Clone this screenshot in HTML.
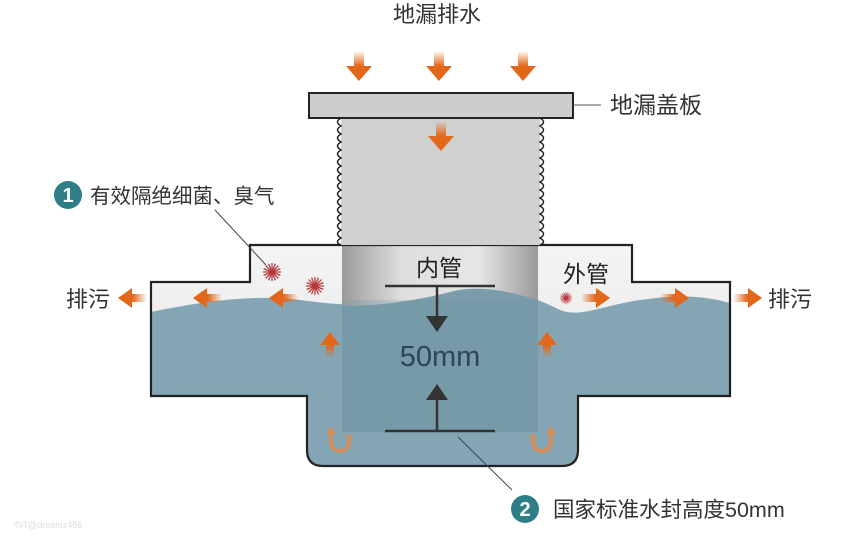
<!DOCTYPE html>
<html><head><meta charset="utf-8"><style>
html,body{margin:0;padding:0;background:#fff;}
svg{display:block}
text{font-family:"Liberation Sans","Noto Sans CJK SC",sans-serif;}
</style></head><body>
<svg width="844" height="544" viewBox="0 0 844 544" xmlns="http://www.w3.org/2000/svg">
<defs>
<linearGradient id="pipe" x1="0" x2="1" y1="0" y2="0">
<stop offset="0" stop-color="#9a9a9a"/><stop offset="0.3" stop-color="#dedede"/><stop offset="0.7" stop-color="#e6e6e6"/><stop offset="1" stop-color="#9a9a9a"/></linearGradient>
<linearGradient id="air" x1="0" x2="0" y1="0" y2="1"><stop offset="0" stop-color="#f4f4f4"/><stop offset="1" stop-color="#e2e2e2"/></linearGradient>
<linearGradient id="fadeD" x1="0" x2="0" y1="0" y2="1"><stop offset="0" stop-color="#e2671a" stop-opacity="0"/><stop offset="0.5" stop-color="#e2671a"/></linearGradient>
<linearGradient id="fadeU" x1="0" x2="0" y1="1" y2="0"><stop offset="0" stop-color="#e2671a" stop-opacity="0"/><stop offset="0.5" stop-color="#e2671a"/></linearGradient>
<linearGradient id="fadeL" x1="1" x2="0" y1="0" y2="0"><stop offset="0" stop-color="#e2671a" stop-opacity="0"/><stop offset="0.5" stop-color="#e2671a"/></linearGradient>
<linearGradient id="fadeR" x1="0" x2="1" y1="0" y2="0"><stop offset="0" stop-color="#e2671a" stop-opacity="0"/><stop offset="0.5" stop-color="#e2671a"/></linearGradient>
<g id="bug"><circle r="3" fill="#b83a3a"/><g stroke="#b83a3a" stroke-width="1.3"><line x1="-9" y1="0" x2="9" y2="0"/><line x1="0" y1="-9" x2="0" y2="9"/><line x1="-6.4" y1="-6.4" x2="6.4" y2="6.4"/><line x1="-6.4" y1="6.4" x2="6.4" y2="-6.4"/><line x1="-3.4" y1="-8.3" x2="3.4" y2="8.3"/><line x1="-8.3" y1="-3.4" x2="8.3" y2="3.4"/><line x1="-3.4" y1="8.3" x2="3.4" y2="-8.3"/><line x1="-8.3" y1="3.4" x2="8.3" y2="-3.4"/></g></g>
<path id="dn" d="M-5,-17 h10 v15 h8 l-13,15 l-13,-15 h8 z" fill="url(#fadeD)"/>
<path id="up" d="M-4,14 h8 v-13 h6 l-10,-13 l-10,13 h6 z" fill="url(#fadeU)"/>
<path id="lf" d="M17,-4 v8 h-15 v6 l-14,-10 l14,-10 v6 z" fill="url(#fadeL)"/>
<path id="rt" d="M-17,-4 v8 h15 v6 l14,-10 l-14,-10 v6 z" fill="url(#fadeR)"/>
</defs>

<text x="437" y="22" font-size="22" text-anchor="middle" fill="#333">地漏排水</text>
<use href="#dn" x="359" y="68"/><use href="#dn" x="439" y="68"/><use href="#dn" x="523" y="68"/>

<path d="M250,245 L632,245 L632,282 L730,282 L730,396 L578,396 L578,450 Q578,466 562,466 L323,466 Q307,466 307,450 L307,396 L151,396 L151,282 L250,282 Z" fill="url(#air)"/>
<path d="M151,312 C200,302 250,294 300,300 C330,304 350,306 390,304 C430,300 460,286 500,290 C520,292 540,300 560,310 C580,318 600,306 640,300 C680,294 705,296 730,303 L730,396 L578,396 L578,450 Q578,466 562,466 L323,466 Q307,466 307,450 L307,396 L151,396 Z" fill="#84a5b4"/>
<rect x="342" y="246" width="196" height="186" fill="url(#pipe)"/>
<path d="M342,306 C380,306 420,300 450,292 C480,284 510,292 538,300 L538,432 L342,432 Z" fill="#7a9cab"/>
<rect x="342" y="300" width="196" height="132" fill="#6f92a2" opacity="0.25"/>
<path d="M250,245 L632,245 L632,282 L730,282 L730,396 L578,396 L578,450 Q578,466 562,466 L323,466 Q307,466 307,450 L307,396 L151,396 L151,282 L250,282 Z" fill="none" stroke="#222" stroke-width="2.2"/>

<rect x="341" y="118" width="199" height="127" fill="#d0d0d0"/>
<path d="M341,118 q-7,4 0,8 q-7,4 0,8 q-7,4 0,8 q-7,4 0,8 q-7,4 0,8 q-7,4 0,8 q-7,4 0,8 q-7,4 0,8 q-7,4 0,8 q-7,4 0,8 q-7,4 0,8 q-7,4 0,8 q-7,4 0,8 q-7,4 0,8 q-7,4 0,8 q-7,4 0,7" fill="none" stroke="#222" stroke-width="1.5"/>
<path d="M540,118 q7,4 0,8 q7,4 0,8 q7,4 0,8 q7,4 0,8 q7,4 0,8 q7,4 0,8 q7,4 0,8 q7,4 0,8 q7,4 0,8 q7,4 0,8 q7,4 0,8 q7,4 0,8 q7,4 0,8 q7,4 0,8 q7,4 0,8 q7,4 0,7" fill="none" stroke="#222" stroke-width="1.5"/>
<use href="#dn" x="441" y="138"/>
<rect x="309" y="93" width="264" height="25" fill="#cdcdcd" stroke="#222" stroke-width="2"/>
<line x1="573" y1="105" x2="601" y2="105" stroke="#555" stroke-width="1"/>
<text x="610" y="113" font-size="23" fill="#333">地漏盖板</text>

<text x="439" y="276" font-size="23" text-anchor="middle" fill="#222">内管</text>
<text x="586" y="282" font-size="23" text-anchor="middle" fill="#222">外管</text>
<line x1="385" y1="286" x2="495" y2="286" stroke="#333" stroke-width="2.5"/>
<line x1="385" y1="431" x2="495" y2="431" stroke="#333" stroke-width="2.5"/>
<line x1="437" y1="286" x2="437" y2="320" stroke="#333" stroke-width="2.5"/>
<path d="M426,316 h22 l-11,16 z" fill="#333"/>
<line x1="437" y1="398" x2="437" y2="431" stroke="#333" stroke-width="2.5"/>
<path d="M426,400 h22 l-11,-16 z" fill="#333"/>
<text x="440" y="366" font-size="29" text-anchor="middle" fill="#2f4650">50mm</text>

<use href="#bug" x="272" y="272"/><use href="#bug" x="315" y="286"/>
<g transform="translate(566,298) scale(0.65)"><use href="#bug"/></g>

<use href="#lf" x="205" y="298"/><use href="#lf" x="281" y="298"/><use href="#lf" x="130" y="298"/>
<use href="#rt" x="598" y="298"/><use href="#rt" x="677" y="298"/><use href="#rt" x="750" y="298"/>
<use href="#up" x="330" y="344"/><use href="#up" x="547" y="344"/>
<path d="M331,432 v10 a9,9 0 0 0 18,0 v-8" fill="none" stroke="#e58a4a" stroke-width="4" opacity="0.85"/>
<path d="M327,434 l4,-8 l4,8 z" fill="#e58a4a"/>
<path d="M533,434 v8 a9,9 0 0 0 18,0 v-10" fill="none" stroke="#e58a4a" stroke-width="4" opacity="0.85"/>
<path d="M547,434 l4,-8 l4,8 z" fill="#e58a4a"/>

<text x="66" y="307" font-size="22" fill="#333">排污</text>
<text x="768" y="307" font-size="22" fill="#333">排污</text>

<circle cx="68" cy="195" r="14" fill="#2f7d86"/>
<text x="68" y="202" font-size="20" font-weight="bold" text-anchor="middle" fill="#fff">1</text>
<text x="90" y="203" font-size="20.5" fill="#333">有效隔绝细菌、臭气</text>
<line x1="215" y1="210" x2="266" y2="265" stroke="#444" stroke-width="1"/>

<line x1="458" y1="437" x2="512" y2="490" stroke="#444" stroke-width="1"/>
<circle cx="525" cy="509" r="14" fill="#2f7d86"/>
<text x="525" y="516" font-size="20" font-weight="bold" text-anchor="middle" fill="#fff">2</text>
<text x="553" y="517" font-size="21.5" fill="#333">国家标准水封高度50mm</text>

<text x="14" y="528" font-size="9" fill="#ddd">©iT@dreamz456</text>
</svg>
</body></html>
